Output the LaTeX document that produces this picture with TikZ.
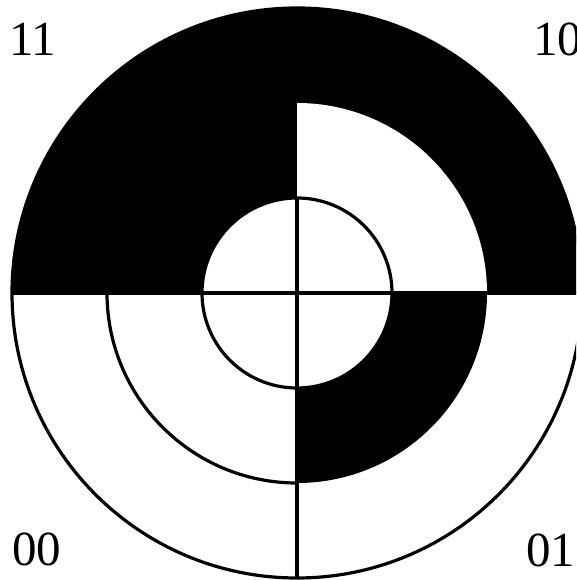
\documentclass[tikz,border=0pt]{standalone}
\usepackage{fontspec}
\setmainfont{Liberation Serif}
\begin{document}
\begin{tikzpicture}[x=1pt,y=1pt,
  ring/.style={line width=3.2pt,draw=black},
  lbl/.style={anchor=base west,inner sep=0pt,font=\fontsize{49}{52}\selectfont}]
\useasboundingbox (0,0) rectangle (576,580);
\clip (0,0) rectangle (576,580);
\fill[white] (0,0) rectangle (576,580);
\coordinate (c) at (297,287);
% upper half black
\fill[black] (c) ++(0:285) arc[start angle=0,end angle=180,radius=285] -- cycle;
% upper-right white quarter
\fill[white] (c) -- ++(0:190) arc[start angle=0,end angle=90,radius=190] -- cycle;
% lower-right black quarter
\fill[black] (c) -- ++(0:190) arc[start angle=0,end angle=-90,radius=190] -- cycle;
% inner circle white
\fill[white] (c) circle[radius=95];
% outlines
\draw[ring] (c) circle[radius=285];
\draw[ring] (c) circle[radius=95];
\draw[ring] (c) ++(180:190) arc[start angle=180,end angle=270,radius=190];
\draw[ring] (c) ++(180:285) -- ++(570,0);
\draw[ring] (c) ++(0,-285) -- ++(0,380);
% labels
\node[lbl] (l11) at (9,524) {11};
\node[lbl] (l10) at (533,524) {10};
\node[lbl] (l00) at (12,14) {00};
\node[lbl] (l01) at (526,13) {01};
\end{tikzpicture}
\end{document}
